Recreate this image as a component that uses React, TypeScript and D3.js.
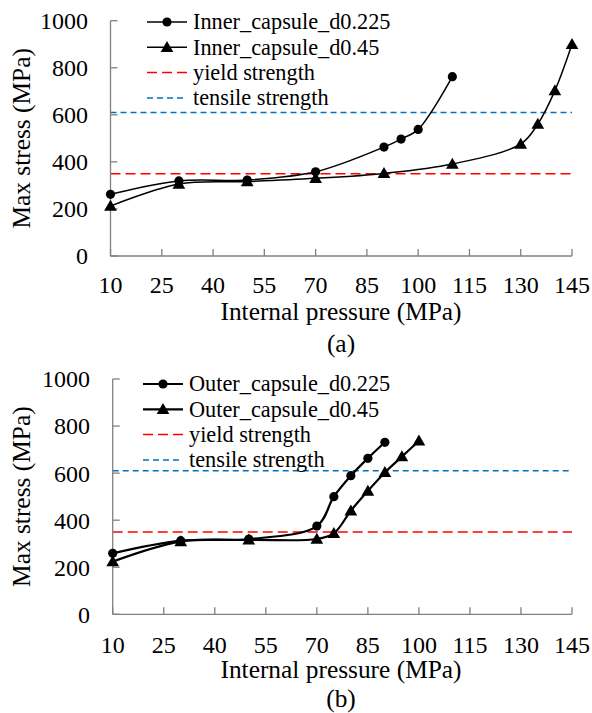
import React from "react";
import * as d3 from "d3";

const xTicks = [10, 25, 40, 55, 70, 85, 100, 115, 130, 145];
const yTicks = [0, 200, 400, 600, 800, 1000];
const yieldStrength = 350;
const tensileStrength = 610;

const innerD0225X = [10, 30, 50, 70, 90, 95, 100, 110];
const innerD0225Y = [262, 319, 323, 358, 463, 497, 538, 762];
const innerD045X = [10, 30, 50, 70, 90, 110, 130, 135, 140, 145];
const innerD045Y = [212, 306, 316, 330, 351, 391, 476, 561, 703, 900];

const outerD0225X = [10, 30, 50, 70, 75, 80, 85, 90];
const outerD0225Y = [259, 313, 320, 375, 500, 589, 663, 731];
const outerD045X = [10, 30, 50, 70, 75, 80, 85, 90, 95, 100];
const outerD045Y = [224, 309, 316, 320, 344, 440, 524, 603, 670, 737];

const FONT = "Liberation Serif";

type PanelProps = {
  left: number;
  right: number;
  top: number;
  bottom: number;
  circX: number[];
  circY: number[];
  triX: number[];
  triY: number[];
  labels: string[];
  legendX: number;
  legendY: number;
  caption: string;
  labelRight: number;
  strokeW: number;
  tickDy: number;
  captionDy: number;
};

function Panel(p: PanelProps) {
  const x = d3.scaleLinear().domain([10, 145]).range([p.left, p.right]);
  const y = d3.scaleLinear().domain([0, 1000]).range([p.bottom, p.top]);
  const line = d3
    .line<[number, number]>()
    .x((d) => x(d[0]))
    .y((d) => y(d[1]))
    .curve(d3.curveCatmullRom.alpha(0.5));
  const circ: [number, number][] = p.circX.map((v, i) => [v, p.circY[i]]);
  const tri: [number, number][] = p.triX.map((v, i) => [v, p.triY[i]]);
  const triPath = d3.symbol().type(d3.symbolTriangle).size(70)() as string;
  const axisColor = "#808080";
  const midX = 341;
  const rowH = 25.3;
  const legendFont = 22.3;
  return (
    <g>
      {/* reference lines */}
      <line x1={p.left} x2={p.right} y1={y(yieldStrength)} y2={y(yieldStrength)} stroke="#ff0000" strokeWidth={1.5} strokeDasharray="10,5" />
      <line x1={p.left} x2={p.right} y1={y(tensileStrength)} y2={y(tensileStrength)} stroke="#0070c0" strokeWidth={1.5} strokeDasharray="6,4" />
      {/* axes */}
      <line x1={p.left} x2={p.left} y1={p.top} y2={p.bottom} stroke={axisColor} strokeWidth={1.3} />
      <line x1={p.left} x2={p.right} y1={p.bottom} y2={p.bottom} stroke={axisColor} strokeWidth={1.3} />
      {yTicks.map((t) => (
        <g key={"y" + t}>
          <line x1={p.left} x2={p.left + 7} y1={y(t)} y2={y(t)} stroke={axisColor} strokeWidth={1.3} />
          <text x={p.labelRight} y={y(t)} dy="0.35em" textAnchor="end" fontFamily={FONT} fontSize={24} fill="#000">{t}</text>
        </g>
      ))}
      {xTicks.map((t) => (
        <g key={"x" + t}>
          <line x1={x(t)} x2={x(t)} y1={p.bottom} y2={p.bottom - 7} stroke={axisColor} strokeWidth={1.3} />
          <text x={x(t)} y={p.bottom + p.tickDy} textAnchor="middle" fontFamily={FONT} fontSize={24} fill="#000">{t}</text>
        </g>
      ))}
      <text x={midX} y={p.bottom + 64} textAnchor="middle" fontFamily={FONT} fontSize={25.4} fill="#000">Internal pressure (MPa)</text>
      <text x={midX} y={p.bottom + p.captionDy} textAnchor="middle" fontFamily={FONT} fontSize={25.4} fill="#000">{p.caption}</text>
      <text transform={`translate(30,${(p.top + p.bottom) / 2}) rotate(-90)`} textAnchor="middle" fontFamily={FONT} fontSize={25.4} fill="#000">Max stress (MPa)</text>
      {/* series */}
      <path d={line(circ) as string} fill="none" stroke="#000" strokeWidth={p.strokeW} />
      <path d={line(tri) as string} fill="none" stroke="#000" strokeWidth={p.strokeW} />
      {circ.map((d, i) => (
        <circle key={"c" + i} cx={x(d[0])} cy={y(d[1])} r={4.6} fill="#000" />
      ))}
      {tri.map((d, i) => (
        <path key={"t" + i} d={triPath} transform={`translate(${x(d[0])},${y(d[1]) + 1})`} fill="#000" />
      ))}
      {/* legend */}
      <g transform={`translate(${p.legendX},${p.legendY})`}>
        <line x1={0} x2={40} y1={0} y2={0} stroke="#000" strokeWidth={p.strokeW} />
        <circle cx={20} cy={0} r={4.6} fill="#000" />
        <text x={46} y={0} dy="0.33em" fontFamily={FONT} fontSize={legendFont} fill="#000">{p.labels[0]}</text>
        <line x1={0} x2={40} y1={rowH} y2={rowH} stroke="#000" strokeWidth={p.strokeW} />
        <path d={triPath} transform={`translate(20,${rowH + 1})`} fill="#000" />
        <text x={46} y={rowH} dy="0.33em" fontFamily={FONT} fontSize={legendFont} fill="#000">{p.labels[1]}</text>
        <line x1={0} x2={40} y1={rowH * 2} y2={rowH * 2} stroke="#ff0000" strokeWidth={1.5} strokeDasharray="10,5" />
        <text x={46} y={rowH * 2} dy="0.33em" fontFamily={FONT} fontSize={legendFont} fill="#000">yield strength</text>
        <line x1={0} x2={40} y1={rowH * 3} y2={rowH * 3} stroke="#0070c0" strokeWidth={1.5} strokeDasharray="6,4" />
        <text x={46} y={rowH * 3} dy="0.33em" fontFamily={FONT} fontSize={legendFont} fill="#000">tensile strength</text>
      </g>
    </g>
  );
}

export default function App() {
  return (
    <svg width={592} height={713} style={{ position: "absolute", left: 0, top: 0, background: "#fff" }}>
      <rect width={592} height={713} fill="#fff" />
      <Panel
        left={110.5}
        right={572}
        top={20.7}
        bottom={256}
        circX={innerD0225X}
        circY={innerD0225Y}
        triX={innerD045X}
        triY={innerD045Y}
        labels={["Inner_capsule_d0.225", "Inner_capsule_d0.45"]}
        legendX={147}
        legendY={22}
        caption="(a)"
        labelRight={88}
        strokeW={1.5}
        tickDy={37}
        captionDy={96}
      />
      <Panel
        left={112.7}
        right={572}
        top={379}
        bottom={614.3}
        circX={outerD0225X}
        circY={outerD0225Y}
        triX={outerD045X}
        triY={outerD045Y}
        labels={["Outer_capsule_d0.225", "Outer_capsule_d0.45"]}
        legendX={143}
        legendY={384}
        caption="(b)"
        labelRight={90}
        strokeW={2.2}
        tickDy={39}
        captionDy={93}
      />
    </svg>
  );
}
